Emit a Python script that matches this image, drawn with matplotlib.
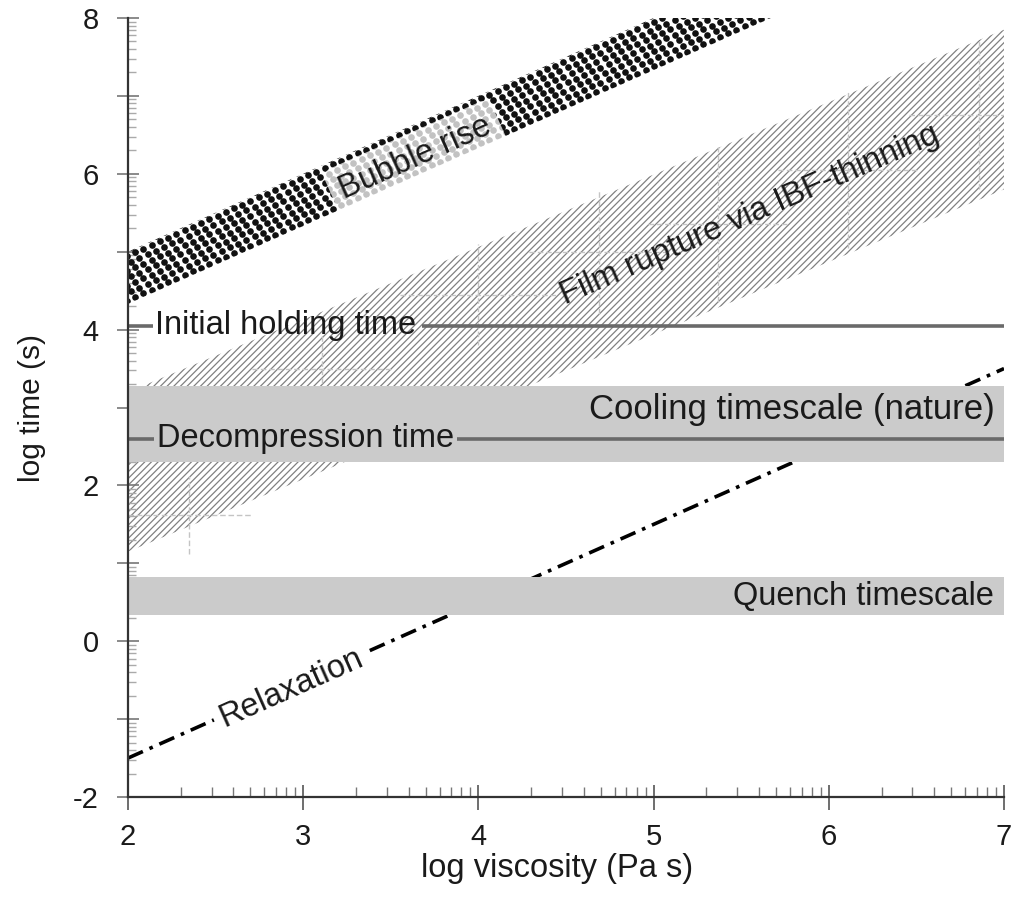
import numpy as np
import matplotlib.pyplot as plt
from matplotlib.patches import Polygon

plt.rcParams['font.family'] = ['Liberation Sans', 'DejaVu Sans']
plt.rcParams['hatch.linewidth'] = 0.9

# timescale bands: edges in log time over the log viscosity range
bubble_x = [2.0, 7.0]
bubble_lo = [4.33, 9.33]
bubble_hi = [5.0, 10.0]

film_x = [2.0, 7.0]
film_lo = [1.15, 5.8]
film_hi = [3.2, 7.85]

# faint error crosses inside the film rupture band
film_pts_x = [2.35, 3.11, 4.0, 4.69, 5.37, 6.11, 6.86]
film_pts_y = [1.62, 3.5, 4.45, 5.0, 5.35, 6.05, 6.75]
film_xerr = [0.35, 0.4, 0.45, 0.4, 0.4, 0.4, 0.4]
film_yerr = [0.5, 0.5, 0.65, 0.8, 1.0, 1.0, 0.95]

relax_x = [2.0, 7.0]
relax_y = [-1.5, 3.5]

holding_t = 4.05
decomp_t = 2.6
cooling_band = (2.3, 3.28)
quench_band = (0.34, 0.82)

x_lim = (2, 7)
y_lim = (-2, 8)

fig = plt.figure(figsize=(10.12, 9.05), dpi=100)
ax = fig.add_axes([0.1265, 0.1193, 0.8656, 0.8608])
ax.set_xlim(*x_lim)
ax.set_ylim(*y_lim)

# film rupture via IBF-thinning (hatched band)
ax.fill_between(film_x, film_lo, film_hi, facecolor='none', edgecolor='#808080',
                hatch='/////', linewidth=0, zorder=1)
eb = ax.errorbar(film_pts_x, film_pts_y, xerr=film_xerr, yerr=film_yerr, fmt='none',
                 ecolor='#c4c4c4', elinewidth=1.0, zorder=1.2)
for c in eb[2]:
    c.set_linestyle((0, (4, 2)))

# bubble rise band filled with a hexagonal dot screen, cut off at the top of the axes
slope = (bubble_lo[1] - bubble_lo[0]) / (bubble_x[1] - bubble_x[0])
x_lo_top = bubble_x[0] + (y_lim[1] - bubble_lo[0]) / slope
x_hi_top = bubble_x[0] + (y_lim[1] - bubble_hi[0]) / slope
band = Polygon([(bubble_x[0], bubble_lo[0]), (x_lo_top, y_lim[1]),
                (x_hi_top, y_lim[1]), (bubble_x[0], bubble_hi[0])],
               closed=True, facecolor='none', edgecolor='none', zorder=2)
ax.add_patch(band)
width = bubble_hi[0] - bubble_lo[0]
n_rows = 7
step = 0.047
dots_x, dots_y = [], []
for k in range(-1, n_rows + 1):
    xs = np.arange(1.9, x_lo_top + 0.1, step) + (k % 2) * step / 2
    ys = bubble_lo[0] + (xs - bubble_x[0]) * slope + (k + 0.5) * width / n_rows
    dots_x.extend(xs)
    dots_y.extend(ys)
sc = ax.scatter(dots_x, dots_y, s=23, c='#111111', linewidths=0, zorder=2)
sc.set_clip_path(band)
sc.set_clip_box(ax.bbox)

# relaxation line, broken around its label
rel_style = dict(color='black', lw=2.6, linestyle=(0, (4.5, 2, 1, 2)), zorder=2,
                 solid_capstyle='butt', dash_capstyle='butt')
for seg in [(2.0, 2.49), (3.38, 7.0)]:
    xs = np.array(seg)
    ax.plot(xs, np.interp(xs, relax_x, relax_y), **rel_style)

# grey timescale bands
ax.axhspan(*cooling_band, xmin=0, xmax=1, color='#cbcbcb', lw=0, zorder=3)
ax.axhspan(*quench_band, xmin=0, xmax=1, color='#cbcbcb', lw=0, zorder=3)

# experimental time lines, broken around their labels
line_style = dict(color='#6a6a6a', lw=2.6, zorder=4, solid_capstyle='butt')
for seg in [(2.0, 2.14), (3.68, 7.0)]:
    ax.plot(seg, [holding_t, holding_t], **line_style)
for seg in [(2.0, 2.15), (3.88, 7.0)]:
    ax.plot(seg, [decomp_t, decomp_t], **line_style)

txt = dict(fontsize=23.5, color='#1a1a1a', zorder=5)
ax.text(2.155, holding_t, 'Initial holding time', ha='left', va='center', **txt)
ax.text(2.165, decomp_t, 'Decompression time', ha='left', va='center', **txt)
ax.text(6.95, 2.97, 'Cooling timescale (nature)', ha='right', va='center',
        **{**txt, 'fontsize': 25})
ax.text(6.94, 0.58, 'Quench timescale', ha='right', va='center', **txt)
ax.text(2.93, -0.6, 'Relaxation', ha='center', va='center', rotation=24,
        rotation_mode='anchor', **txt)
ax.text(5.55, 5.47, 'Film rupture via IBF-thinning', ha='center', va='center',
        rotation=23.5, rotation_mode='anchor', **txt)
ax.text(3.64, 6.2, 'Bubble rise', ha='center', va='center', rotation=24,
        rotation_mode='anchor',
        bbox=dict(boxstyle='round,pad=0.3', fc='white', ec='none', alpha=0.75), **txt)

# axes styling
for side in ['top', 'right']:
    ax.spines[side].set_visible(False)
for side in ['left', 'bottom']:
    ax.spines[side].set_color('#333333')
    ax.spines[side].set_linewidth(1.6)
    ax.spines[side].set_zorder(6)

ax.set_xticks(range(2, 8))
ax.set_xticks([n + np.log10(k) for n in range(2, 7) for k in range(2, 10)], minor=True)
ax.set_yticks(range(-2, 9))
ax.set_yticklabels([str(v) if v % 2 == 0 else '' for v in range(-2, 9)])
ax.set_yticks([n + np.log10(k) for n in range(-2, 8) for k in range(2, 10)], minor=True)

ax.tick_params(axis='x', which='major', direction='inout', length=18, width=1.2,
               color='#555555', labelsize=21, pad=10, labelcolor='#1a1a1a')
ax.tick_params(axis='x', which='minor', direction='in', length=7, width=1.0, color='#777777')
ax.tick_params(axis='y', which='major', direction='inout', length=16, width=1.2,
               color='#777777', labelsize=21, pad=13, labelcolor='#1a1a1a')
ax.tick_params(axis='y', which='minor', direction='in', length=6, width=1.0, color='#aaaaaa')

ax.set_xlabel('log viscosity (Pa s)', fontsize=23.5, color='#1a1a1a')
ax.set_ylabel('log time (s)', fontsize=21.5, color='#1a1a1a')
ax.xaxis.set_label_coords(0.49, -0.072)
ax.yaxis.set_label_coords(-0.094, 0.5)

fig.savefig('out.png', dpi=100)
